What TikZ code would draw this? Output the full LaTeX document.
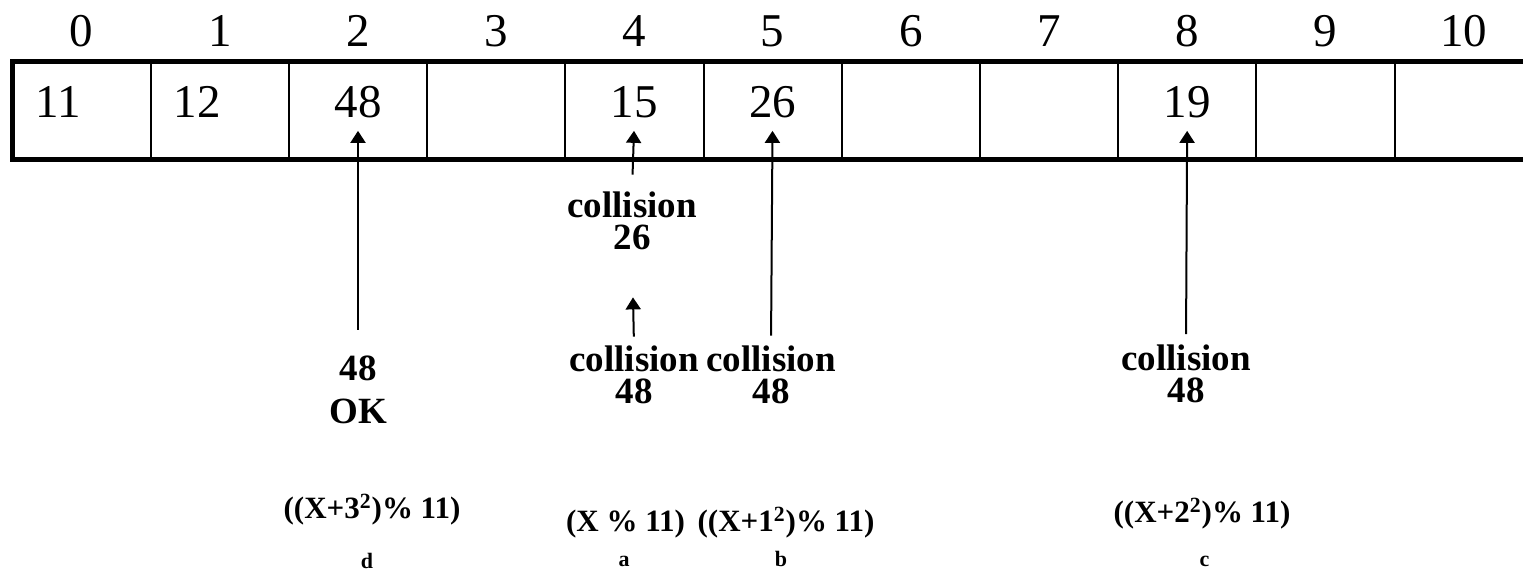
\documentclass[tikz,border=0pt]{standalone}
\usepackage{fontspec}
\setmainfont{Liberation Serif}
\usetikzlibrary{arrows.meta,positioning}

\begin{document}
\begin{tikzpicture}[
  x=0.5pt, y=0.5pt,
  >={Triangle[length=6pt,width=7.5pt]},
  cell/.style={
    draw=black,
    line width=1pt,
    minimum width=69.1pt,
    minimum height=49pt,
    inner sep=0pt,
    outer sep=0pt
  },
  idx/.style={font=\fontsize{23.5}{28}\selectfont, inner sep=0pt},
  val/.style={font=\fontsize{23.5}{28}\selectfont, inner sep=0pt, anchor=base},
  probe/.style={
    font=\bfseries\fontsize{18.5}{16}\selectfont,
    align=center,
    inner sep=0pt
  },
  formula/.style={font=\bfseries\fontsize{15.5}{18}\selectfont, inner sep=0pt, anchor=base},
  tag/.style={font=\bfseries\fontsize{11}{13}\selectfont, inner sep=0pt, anchor=base},
  rim/.style={line width=2.5pt, line cap=rect},
  arrow/.style={->, line width=1pt, shorten >=6pt, shorten <=5pt}
]
\useasboundingbox (0,0) rectangle (1523,573);

% hash table slots 0..10
\foreach \i in {0,...,10}{
  \node[cell] (c\i) at (81.6+138.2*\i, 462) {};
  \node[idx, above=7.5pt of c\i] (i\i) {\i};
}
\draw[rim] (c0.north west) -- (c10.north east);
\draw[rim] (c0.south west) -- (c10.south east);
\draw[rim] (c0.north west) -- (c0.south west);

% stored keys
\node[val, anchor=base west] (v0) at ([xshift=11.25pt,yshift=-3.5pt]c0.west) {11};
\node[val, anchor=base west] (v1) at ([xshift=11.25pt,yshift=-3.5pt]c1.west) {12};
\node[val] (v2) at ([yshift=-3.5pt]c2.center) {48};
\node[val] (v4) at ([yshift=-3.5pt]c4.center) {15};
\node[val] (v5) at ([yshift=-3.5pt]c5.center) {26};
\node[val] (v8) at ([yshift=-3.5pt]c8.center) {19};

% probes
\node[probe] (p26) at (632, 352) {collision\\26};
\node[probe] (pa) at (634, 198) {collision\\48};
\node[probe] (pb) at (771, 198) {collision\\48};
\node[probe] (pc) at (1186, 199.5) {collision\\48};
\node[probe, font=\bfseries\fontsize{18.5}{21.5}\selectfont] (pd) at (358, 183) {48\\OK};

\draw[arrow, shorten <=8.5pt] (p26.north) -- (v4.south);
\draw[arrow, shorten >=23.5pt, shorten <=4.5pt] (pa.north) -- (p26.south);
\draw[arrow] (pb.north) -- (v5.south);
\draw[arrow] (pc.north) -- (v8.south);
\draw[arrow, shorten <=13pt] (pd.north) -- (v2.south);

% probe functions
\node[formula] (fd) at (372, 54.5) {((X+3\textsuperscript{2})\% 11)};
\node[formula] (fa) at (625.5, 41) {(X \% 11)};
\node[formula] (fb) at (786, 41) {((X+1\textsuperscript{2})\% 11)};
\node[formula] (fc) at (1202, 50) {((X+2\textsuperscript{2})\% 11)};

\node[tag] (td) at (367, 4) {d};
\node[tag] (ta) at (624, 6) {a};
\node[tag] (tb) at (781, 6) {b};
\node[tag] (tc) at (1204.5, 6) {c};
\end{tikzpicture}
\end{document}
